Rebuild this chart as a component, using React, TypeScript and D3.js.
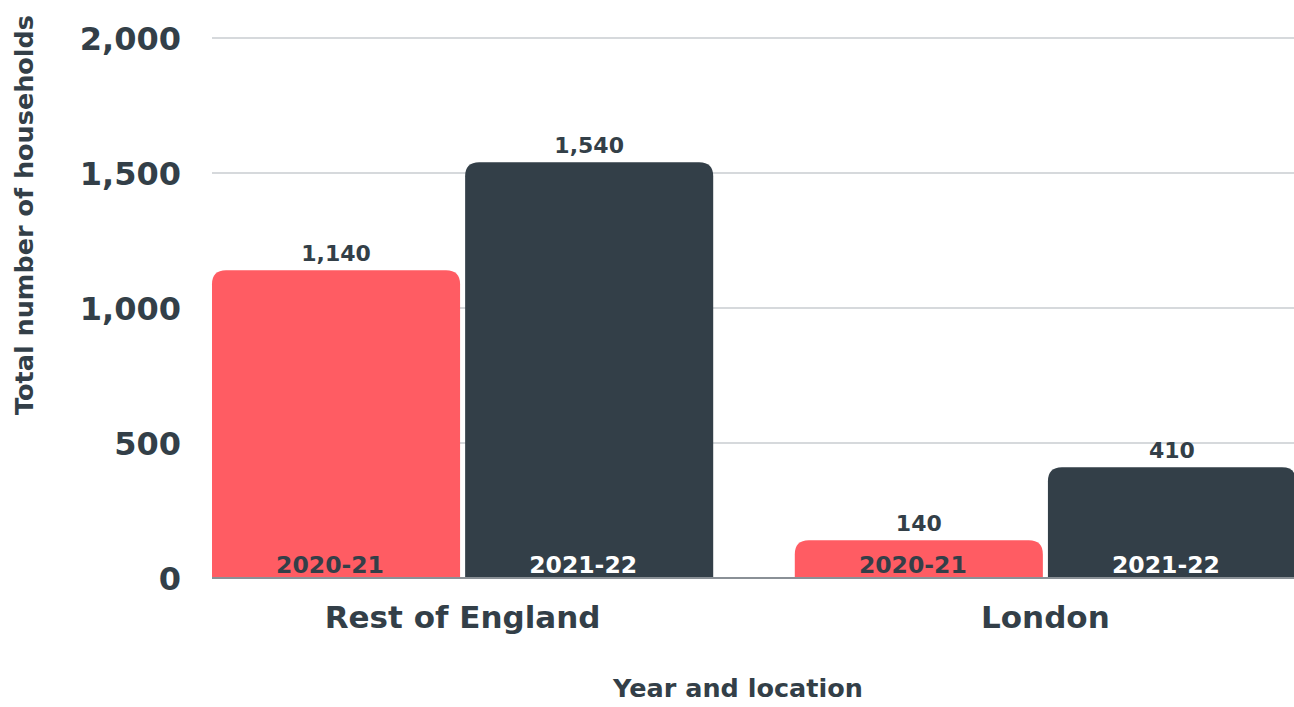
import React from "react";
import * as d3 from "d3";

const locations = ["Rest of England", "London"];
const years = ["2020-21", "2021-22"];
const values2020 = [1140, 140];
const values2021 = [1540, 410];
const yTicks = [0, 500, 1000, 1500, 2000];
const yearColors = ["#ff5c63", "#333f48"];
const yearLabelColors = ["#333f48", "#ffffff"];

const W = 1294;
const H = 707;
const FONT = "'DejaVu Sans', sans-serif";
const TEXT = "#333f48";

function topRoundedRect(x: number, y: number, w: number, h: number, r: number) {
  const rr = Math.min(r, h, w / 2);
  return `M${x},${y + h}V${y + rr}Q${x},${y} ${x + rr},${y}H${x + w - rr}Q${x + w},${y} ${x + w},${y + rr}V${y + h}Z`;
}

export default function App() {
  const left = 212;
  const right = 1296;
  const top = 38;
  const bottom = 578;

  const y = d3.scaleLinear().domain([0, 2000]).range([bottom, top]);
  const x0 = d3.scaleBand<string>().domain(locations).range([left, right]).paddingInner(0.14).paddingOuter(0);
  const x1 = d3.scaleBand<string>().domain(years).range([0, x0.bandwidth()]).paddingInner(0.02);

  const series = [values2020, values2021];

  return (
    <svg width={W} height={H} style={{ position: "absolute", left: 0, top: 0, background: "#fff" }}>
      {yTicks.map((t) => (
        <g key={t}>
          {t !== 0 && <line x1={left} x2={W} y1={y(t)} y2={y(t)} stroke="#c9cdd1" strokeWidth={1.5} />}
          <text x={181} y={y(t)} dy="0.36em" textAnchor="end" fontFamily={FONT} fontWeight={700} fontSize={32} fill={TEXT}>
            {d3.format(",")(t)}
          </text>
        </g>
      ))}
      {locations.map((loc, i) => (
        <g key={loc} transform={`translate(${x0(loc)},0)`}>
          {years.map((yr, j) => {
            const v = series[j][i];
            const bx = x1(yr)!;
            const bw = x1.bandwidth();
            const by = y(v);
            return (
              <g key={yr}>
                <path d={topRoundedRect(bx, by, bw, bottom - by, 14)} fill={yearColors[j]} />
                <text x={bx + bw / 2} y={by - 9} textAnchor="middle" fontFamily={FONT} fontWeight={700} fontSize={22} fill={TEXT}>
                  {d3.format(",")(v)}
                </text>
                <text x={bx + bw / 2 - 6} y={bottom - 5} textAnchor="middle" fontFamily={FONT} fontWeight={700} fontSize={23.5} fill={yearLabelColors[j]}>
                  {yr}
                </text>
              </g>
            );
          })}
          <text x={x0.bandwidth() / 2} y={628} textAnchor="middle" fontFamily={FONT} fontWeight={700} fontSize={31} fill={TEXT}>
            {loc}
          </text>
        </g>
      ))}
      <line x1={left} x2={W} y1={bottom} y2={bottom} stroke="#8a9096" strokeWidth={2} />
      <text x={738} y={697} textAnchor="middle" fontFamily={FONT} fontWeight={700} fontSize={25.5} fill={TEXT}>
        Year and location
      </text>
      <text transform={`translate(33,215) rotate(-90)`} textAnchor="middle" fontFamily={FONT} fontWeight={700} fontSize={25.5} fill={TEXT}>
        Total number of households
      </text>
    </svg>
  );
}
